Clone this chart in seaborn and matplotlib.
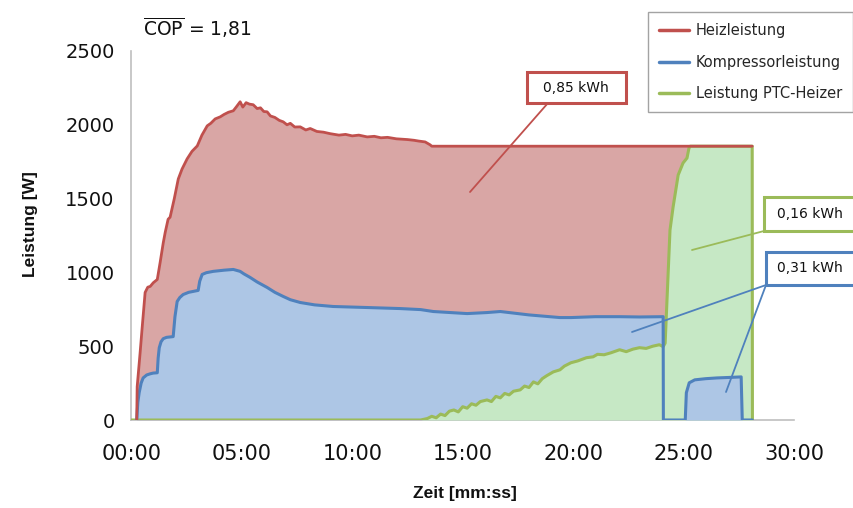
import matplotlib
matplotlib.use('Agg')
import matplotlib.pyplot as plt
from matplotlib.patches import Rectangle
from matplotlib.lines import Line2D
import numpy as np
import seaborn as sns

# time in minutes, power in W
heiz_t = [0.25, 0.27, 0.40, 0.50, 0.63, 0.75, 0.86, 1.0, 1.18, 1.31, 1.45, 1.54, 1.67, 1.76,
          1.95, 2.13, 2.3, 2.53, 2.75, 2.99, 3.2, 3.44, 3.6, 3.8, 4.03, 4.2, 4.4, 4.62, 4.75,
          4.93, 5.05, 5.2, 5.35, 5.52, 5.7, 5.85, 6.0, 6.15, 6.3, 6.5, 6.7, 6.88, 7.05, 7.2,
          7.4, 7.65, 7.9, 8.1, 8.4, 8.7, 9.0, 9.4, 9.7, 10.0, 10.3, 10.68, 11.0, 11.3, 11.6,
          12.0, 12.5, 12.8, 13.0, 13.3, 13.53, 13.6, 28.1]
heiz_p = [0, 225, 450, 633, 864, 900, 905, 930, 952, 1068, 1200, 1272, 1360, 1374,
          1500, 1633, 1700, 1769, 1820, 1857, 1930, 1993, 2010, 2040, 2054, 2070, 2085, 2095, 2120,
          2156, 2120, 2150, 2140, 2136, 2110, 2115, 2090, 2088, 2060, 2050, 2030, 2020, 2000, 2010,
          1985, 1986, 1965, 1975, 1955, 1950, 1940, 1930, 1935, 1925, 1930, 1918, 1922, 1912, 1915,
          1905, 1900, 1895, 1890, 1884, 1864, 1855, 1855]

komp_t = [0.25, 0.30, 0.36, 0.45, 0.54, 0.7, 0.86, 1.0, 1.18, 1.22, 1.27, 1.35, 1.45, 1.6, 1.9,
          1.98, 2.08, 2.2, 2.35, 2.6, 3.03, 3.1, 3.21, 3.4, 3.71, 4.2, 4.62, 4.93, 5.1, 5.38,
          5.7, 6.15, 6.5, 6.88, 7.2, 7.65, 8.3, 9.14, 10.68, 12.17, 13.1, 13.67, 15.2, 16.1,
          16.7, 18.0, 19.4, 19.9, 21.0, 22.1, 23.0, 24.07, 24.08, 25.07, 25.12, 25.25, 25.5,
          26.0, 26.5, 27.0, 27.6, 27.65, 28.1]
komp_p = [0, 120, 185, 250, 285, 305, 313, 318, 320, 420, 490, 530, 551, 560, 565,
          700, 803, 830, 850, 865, 878, 940, 986, 998, 1007, 1015, 1020, 1007, 990, 966,
          935, 898, 865, 837, 815, 796, 780, 769, 762, 755, 748, 735, 721, 728,
          735, 712, 694, 694, 700, 700, 698, 700, 0, 0, 185, 252, 272,
          280, 285, 288, 292, 0, 0]

ptc_t = [0, 13.1, 13.4, 13.6, 13.8, 14.0, 14.2, 14.4, 14.6, 14.8, 15.0, 15.2, 15.4, 15.6, 15.8,
         16.1, 16.3, 16.5, 16.7, 16.9, 17.1, 17.3, 17.6, 17.8, 18.0, 18.2, 18.4, 18.6, 18.8,
         19.1, 19.4, 19.6, 19.9, 20.2, 20.6, 20.9, 21.1, 21.4, 21.7, 22.1, 22.4, 22.7, 23.0,
         23.3, 23.6, 23.9, 24.07, 24.16, 24.25, 24.38, 24.52, 24.75, 24.97, 25.15, 25.24,
         25.3, 28.1, 28.11]
ptc_p = [0, 0, 10, 25, 15, 40, 30, 60, 68, 55, 90, 80, 110, 100, 125,
         136, 125, 160, 150, 180, 170, 195, 204, 230, 220, 258, 245, 280, 300,
         326, 340, 365, 388, 400, 422, 428, 445, 442, 455, 476, 463, 480, 490,
         485, 500, 510, 497, 520, 833, 1287, 1443, 1660, 1741, 1775, 1843,
         1855, 1855, 0]

x_ticks = [0, 5, 10, 15, 20, 25, 30]
x_labels = ['00:00', '05:00', '10:00', '15:00', '20:00', '25:00', '30:00']
y_ticks = [0, 500, 1000, 1500, 2000, 2500]

c_red, c_red_f = '#c0504d', '#d9a6a5'
c_blue, c_blue_f = '#4f81bd', '#adc6e5'
c_green, c_green_f = '#9bbb59', '#c6e8c5'
grey = '#bfbfbf'

sns.set_style("white")
plt.rcParams['font.family'] = ['DejaVu Sans']

W, H = 854, 508
fig = plt.figure(figsize=(W / 100, H / 100), dpi=100)
ax = fig.add_axes([131.2 / W, 1 - 420 / H, 663 / W, 369 / H])

ax.fill_between(heiz_t, heiz_p, 0, color=c_red_f, lw=0, zorder=1)
ax.fill_between(komp_t, komp_p, 0, color=c_blue_f, lw=0, zorder=2)
ax.fill_between(ptc_t, ptc_p, 0, color=c_green_f, lw=0, zorder=3)
bump = np.array(komp_t) > 24.5
ax.fill_between(komp_t, komp_p, 0, where=bump, color=c_blue_f, lw=0, zorder=4)

sns.lineplot(x=ptc_t, y=ptc_p, ax=ax, color=c_green, lw=2.2, sort=False, estimator=None,
             label='Leistung PTC-Heizer', zorder=5)
sns.lineplot(x=komp_t, y=komp_p, ax=ax, color=c_blue, lw=2.2, sort=False, estimator=None,
             label='Kompressorleistung', zorder=6)
sns.lineplot(x=heiz_t, y=heiz_p, ax=ax, color=c_red, lw=2.0, sort=False, estimator=None,
             label='Heizleistung', zorder=7)

ax.set_xlim(0, 30)
ax.set_ylim(0, 2500)
ax.set_xticks(x_ticks)
ax.set_xticklabels(x_labels)
ax.set_yticks(y_ticks)
for s in ['top', 'right']:
    ax.spines[s].set_visible(False)
for s in ['left', 'bottom']:
    ax.spines[s].set_color(grey)
    ax.spines[s].set_linewidth(1.2)
ax.tick_params(axis='both', which='both', direction='out', length=5, width=1.2, color=grey,
               labelcolor='#111111')
ax.tick_params(axis='x', labelsize=15, pad=12)
ax.tick_params(axis='y', labelsize=14, pad=7)
ax.spines['bottom'].set_bounds(0, 30)

lab_font = dict(family=['Liberation Sans', 'DejaVu Sans'], weight='bold', size=12.5,
                color='#111111')
ax.set_xlabel('Zeit [mm:ss]', **lab_font)
ax.set_ylabel('Leistung [W]', **lab_font)
ax.xaxis.set_label_coords((465 - 131.2) / 663, (420 - 486) / 369)
ax.yaxis.set_label_coords((38 - 131.2) / 663, (420 - 224) / 369)

# legend in the order Heiz, Kompressor, PTC
h, l = ax.get_legend_handles_labels()
order = [2, 1, 0]
leg = ax.legend([h[i] for i in order], [l[i] for i in order], loc='upper right',
                bbox_to_anchor=(853 / W, 1 - 12 / H), bbox_transform=fig.transFigure,
                borderaxespad=0, fontsize=10.5, frameon=True, fancybox=False,
                handlelength=2.0, labelspacing=1.15, borderpad=0.75, handletextpad=0.5)
leg.get_frame().set_edgecolor('#8c8c8c')
leg.get_frame().set_linewidth(1.0)
for ln in leg.get_lines():
    ln.set_linewidth(2.5)

fig.text(143 / W, 1 - 36 / H, r'$\overline{\mathrm{COP}}$ = 1,81', fontsize=13.5,
         va='baseline', ha='left', color='#111111')


def fx(px):
    return px / W


def fy(py):
    return 1 - py / H


def box(x0, y0, x1, y1, col, txt, tx):
    fig.patches.append(Rectangle((fx(x0), fy(y1)), fx(x1) - fx(x0), fy(y0) - fy(y1),
                                 transform=fig.transFigure, facecolor='white',
                                 edgecolor=col, lw=2.2, zorder=10))
    fig.text(fx(tx), fy((y0 + y1) / 2), txt, fontsize=10, ha='center', va='center',
             color='#111111', zorder=11)


def conn(p0, p1, col):
    fig.lines.append(Line2D([fx(p0[0]), fx(p1[0])], [fy(p0[1]), fy(p1[1])],
                            transform=fig.transFigure, color=col, lw=1.3, zorder=9))


conn((548, 103), (470, 192), c_red)
box(527, 72, 626, 103, c_red, '0,85 kWh', 576)
conn((764, 231), (692, 250), c_green)
box(764, 197, 870, 231, c_green, '0,16 kWh', 810)
conn((766, 285), (632, 332), c_blue)
conn((766, 285), (726, 392), c_blue)
box(766, 252, 870, 285, c_blue, '0,31 kWh', 810)

plt.savefig('out.png', dpi=100, facecolor='white')
